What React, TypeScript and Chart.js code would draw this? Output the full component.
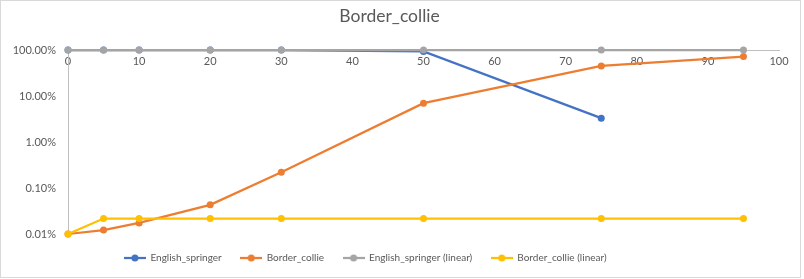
import React, { useEffect, useRef } from "react";
import { Chart, registerables } from "chart.js";

Chart.register(...registerables);

const chartTitle = "Border_collie";
const seriesNames = ["English_springer", "Border_collie", "English_springer (linear)", "Border_collie (linear)"];
const seriesColors = ["#4472C4", "#ED7D31", "#A5A5A5", "#FFC000"];
const xEnglish = [0, 5, 10, 20, 30, 50, 75];
const yEnglish = [1, 1, 1, 1, 1, 0.93, 0.033];
const xBorder = [0, 5, 10, 20, 30, 50, 75, 95];
const yBorder = [0.0001, 0.000122, 0.000174, 0.00043, 0.0022, 0.07, 0.45, 0.72];
const xEnglishLin = [0, 5, 10, 20, 30, 50, 75, 95];
const yEnglishLin = [1, 1, 1, 1, 1, 1, 1, 1];
const xBorderLin = [0, 5, 10, 20, 30, 50, 75, 95];
const yBorderLin = [0.0001, 0.000217, 0.000217, 0.000217, 0.000217, 0.000217, 0.000217, 0.000217];
const yTicks = [0.0001, 0.001, 0.01, 0.1, 1];
const xMin = 0;
const xMax = 100;
const xStep = 10;

const FONT = "Lato";
const TEXT = "#595959";

function legendIcon(color: string): HTMLCanvasElement {
  const c = document.createElement("canvas");
  c.width = 22;
  c.height = 8;
  const ctx = c.getContext("2d")!;
  ctx.strokeStyle = color;
  ctx.lineWidth = 2.25;
  ctx.beginPath();
  ctx.moveTo(0, 4);
  ctx.lineTo(22, 4);
  ctx.stroke();
  ctx.fillStyle = color;
  ctx.beginPath();
  ctx.arc(11, 4, 3.5, 0, Math.PI * 2);
  ctx.fill();
  return c;
}

const legendShift = {
  id: "legendShift",
  afterLayout(chart: any) {
    if (chart.legend) {
      chart.legend.left -= 24;
      chart.legend.right -= 24;
    }
  },
};

export default function App() {
  const ref = useRef<HTMLCanvasElement | null>(null);
  useEffect(() => {
    document.body.style.margin = "0";
    const xs = [xEnglish, xBorder, xEnglishLin, xBorderLin];
    const ys = [yEnglish, yBorder, yEnglishLin, yBorderLin];
    const datasets = seriesNames.map((name, i) => ({
      label: name,
      data: xs[i].map((x, j) => ({ x, y: ys[i][j] })),
      borderColor: seriesColors[i],
      backgroundColor: seriesColors[i],
      borderWidth: 2.25,
      pointRadius: 3.5,
      pointHoverRadius: 3.5,
      pointBorderWidth: 0,
      tension: 0,
      clip: false as any,
      order: 3 - i,
    }));
    const icons = seriesColors.map(legendIcon);
    const chart = new Chart(ref.current!, {
      type: "line",
      data: { datasets },
      plugins: [legendShift],
      options: {
        animation: false,
        responsive: false,
        layout: { padding: { left: 0, right: 25, top: 0, bottom: 6 } },
        plugins: {
          tooltip: { enabled: false },
          title: {
            display: true,
            text: chartTitle,
            color: TEXT,
            font: { family: FONT, size: 17.5, weight: "normal" },
            padding: { top: 6, bottom: 23 },
          },
          legend: {
            position: "bottom",
            labels: {
              color: TEXT,
              font: { family: FONT, size: 10 },
              usePointStyle: true,
              pointStyleWidth: 21,
              padding: 19,
              generateLabels: (ch: any) =>
                ch.data.datasets.map((d: any, i: number) => ({
                  text: d.label,
                  pointStyle: icons[i],
                  fillStyle: seriesColors[i],
                  strokeStyle: seriesColors[i],
                  lineWidth: 0,
                  datasetIndex: i,
                  fontColor: TEXT,
                  hidden: false,
                })),
            },
          },
        },
        scales: {
          x: {
            type: "linear",
            min: xMin,
            max: xMax,
            position: { y: 1 } as any,
            grid: { display: false, drawTicks: false },
            border: { display: true, color: "#BFBFBF", width: 1 },
            ticks: {
              stepSize: xStep,
              color: TEXT,
              font: { family: FONT, size: 11 },
              padding: 5,
              maxRotation: 0,
            },
          },
          y: {
            type: "logarithmic",
            min: yTicks[0],
            max: yTicks[yTicks.length - 1],
            grid: { display: false, drawTicks: false },
            border: { display: true, color: "#BFBFBF", width: 1 },
            afterBuildTicks: (s: any) => {
              s.ticks = yTicks.map((v) => ({ value: v }));
            },
            afterFit: (s: any) => {
              s.width = 68;
            },
            ticks: {
              color: TEXT,
              font: { family: FONT, size: 11 },
              padding: 12,
              callback: (v: any) => (Number(v) * 100).toFixed(2) + "%",
            },
          },
        },
      },
    });
    return () => chart.destroy();
  }, []);
  return (
    <div style={{ position: "absolute", left: 0, top: 0, width: 804, height: 279 }}>
      <canvas ref={ref} width={804} height={279} style={{ display: "block" }} />
      <div
        style={{
          position: "absolute",
          left: 0,
          top: 0,
          width: 801,
          height: 278,
          border: "1px solid #D9D9D9",
          boxSizing: "border-box",
          pointerEvents: "none",
        }}
      />
    </div>
  );
}
